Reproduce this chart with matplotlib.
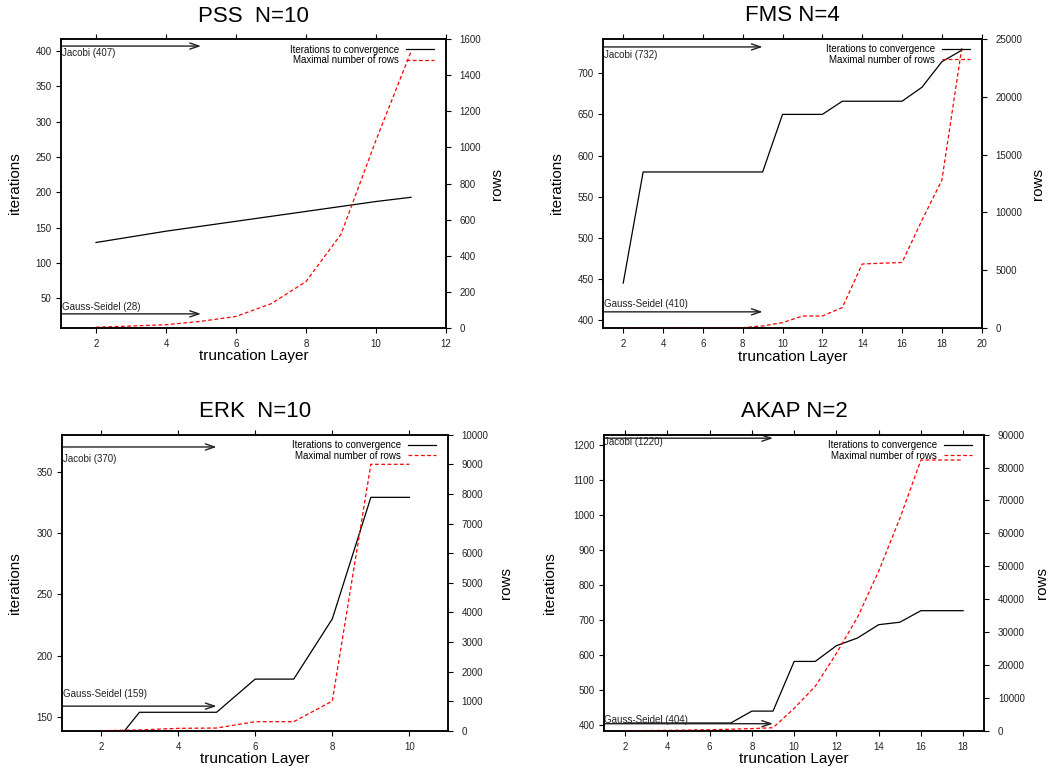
import matplotlib
matplotlib.use('Agg')
import matplotlib.pyplot as plt
from matplotlib.lines import Line2D

plt.rcParams['font.family'] = ['Liberation Sans', 'DejaVu Sans']

W, H = 1052, 769

# PSS, N=10
pss_layers = [2, 3, 4, 5, 6, 7, 8, 9, 10, 11]
pss_iters = [129, 137, 145, 152, 159, 166, 173, 180, 187, 193]
pss_rows = [4, 11, 18, 37, 64, 134, 257, 519, 1040, 1530]
pss_jacobi, pss_gauss = 407, 28

# FMS, N=4
fms_layers = list(range(2, 20))
fms_iters = [445, 580, 580, 580, 580, 580, 580, 580, 650, 650, 650,
             666, 666, 666, 666, 683, 714, 728]
fms_rows = [5, 10, 15, 20, 30, 40, 60, 200, 490, 1060, 1060,
            1790, 5550, 5620, 5680, 9330, 12780, 24200]
fms_jacobi, fms_gauss = 732, 410

# ERK, N=10
erk_layers = [2, 3, 4, 5, 6, 7, 8, 9, 10]
erk_iters = [115, 154, 154, 154, 181, 181, 230, 329, 329]
erk_rows = [0, 25, 80, 90, 304, 304, 1000, 9000, 9000]
erk_jacobi, erk_gauss = 370, 159

# AKAP, N=2
akap_layers = list(range(2, 19))
akap_iters = [406, 406, 406, 406, 406, 406, 440, 440, 582, 582,
              627, 649, 687, 694, 727, 727, 727]
akap_rows = [0, 50, 100, 200, 300, 450, 650, 900, 6800, 13500,
             23500, 34500, 48500, 64500, 82300, 82300, 82300]
akap_jacobi, akap_gauss = 1220, 404

titles = ['PSS  N=10', 'FMS N=4', 'ERK  N=10', 'AKAP N=2']
legend_labels = ['Iterations to convergence', 'Maximal number of rows']


def px_box(left, top, right, bottom):
    return [left / W, 1 - bottom / H, (right - left) / W, (bottom - top) / H]


def draw_panel(fig, box, title, layers, iters, rows, jacobi, gauss,
               xmax, xticks, yticks, rticks, rmax, arrow_end, ylab_x, rlab_x):
    left, top, right, bottom = box
    ax = fig.add_axes(px_box(left, top, right, bottom))
    ax2 = ax.twinx()

    ax.plot(layers, iters, color='black', lw=0.9)
    ax2.plot(layers, rows, color='red', lw=0.9, linestyle=(0, (3, 2)))

    ax.set_xlim(1, xmax)
    ax.set_ylim(gauss - 20, jacobi + 10)
    ax2.set_ylim(0, rmax)
    ax.set_xticks(xticks)
    ax.set_yticks(yticks)
    ax2.set_yticks(rticks)

    for a in (ax, ax2):
        for s in a.spines.values():
            s.set_linewidth(1.1)
    ax.tick_params(axis='x', direction='out', top=True, length=3.3, width=0.8,
                   labelsize=7, pad=4.5, labelcolor='#222222')
    ax.tick_params(axis='y', direction='out', length=3.3, width=0.8,
                   labelsize=7, pad=3.5, labelcolor='#222222')
    ax2.tick_params(axis='y', direction='out', length=3.3, width=0.8,
                    labelsize=7, pad=6.5, labelcolor='#222222')

    # reference arrows for the plain iterative solvers
    arrow = dict(arrowstyle='->,head_length=0.65,head_width=0.22',
                 lw=1.0, color='#222222', shrinkA=0, shrinkB=0)
    ax.annotate('', xy=(arrow_end, jacobi), xytext=(1, jacobi), arrowprops=arrow)
    ax.annotate('', xy=(arrow_end, gauss), xytext=(1, gauss), arrowprops=arrow)
    ax.text(1.02, jacobi - 10, 'Jacobi (%d)' % jacobi, fontsize=7,
            ha='left', va='center', color='#222222')
    ax.text(1.02, gauss + 10, 'Gauss-Seidel (%d)' % gauss, fontsize=7,
            ha='left', va='center', color='#222222')

    handles = [Line2D([], [], color='black', lw=0.9),
               Line2D([], [], color='red', lw=0.9, linestyle=(0, (3, 2)))]
    axw = right - left
    axh = bottom - top
    ax2.legend(handles, legend_labels, loc='upper right',
               bbox_to_anchor=(1 - 12 / axw, 1 - 5.5 / axh),
               frameon=False, markerfirst=False, fontsize=7,
               borderpad=0, borderaxespad=0, handlelength=2.9,
               handletextpad=0.7, labelspacing=0.05)

    cx = (left + right) / 2
    cy = (top + bottom) / 2
    fig.text(cx / W, 1 - (top - 23) / H, title, fontsize=16,
             ha='center', va='center')
    fig.text(cx / W, 1 - (bottom + 28.5) / H, 'truncation Layer', fontsize=11,
             ha='center', va='center')
    fig.text(ylab_x / W, 1 - cy / H, 'iterations', fontsize=11,
             ha='center', va='center', rotation=90)
    fig.text(rlab_x / W, 1 - cy / H, 'rows', fontsize=11,
             ha='center', va='center', rotation=90)


fig = plt.figure(figsize=(W / 100, H / 100), dpi=100)

draw_panel(fig, (61, 39, 446, 328), titles[0], pss_layers, pss_iters, pss_rows,
           pss_jacobi, pss_gauss, 12, range(2, 13, 2), range(50, 401, 50),
           range(0, 1601, 200), 1600, 5, 15, 496.7)
draw_panel(fig, (603.3, 38.7, 981.7, 328.3), titles[1], fms_layers, fms_iters, fms_rows,
           fms_jacobi, fms_gauss, 20, range(2, 21, 2), range(400, 701, 50),
           range(0, 25001, 5000), 25000, 9, 556.7, 1037.7)
draw_panel(fig, (62.3, 434.7, 448, 730.7), titles[2], erk_layers, erk_iters, erk_rows,
           erk_jacobi, erk_gauss, 11, range(2, 11, 2), range(150, 351, 50),
           range(0, 10001, 1000), 10000, 5, 15, 505.7)
draw_panel(fig, (604, 434.7, 984.3, 730.7), titles[3], akap_layers, akap_iters, akap_rows,
           akap_jacobi, akap_gauss, 19, range(2, 19, 2), range(400, 1201, 100),
           range(0, 90001, 10000), 90000, 9, 550, 1042)

fig.savefig('out.png', dpi=100)
